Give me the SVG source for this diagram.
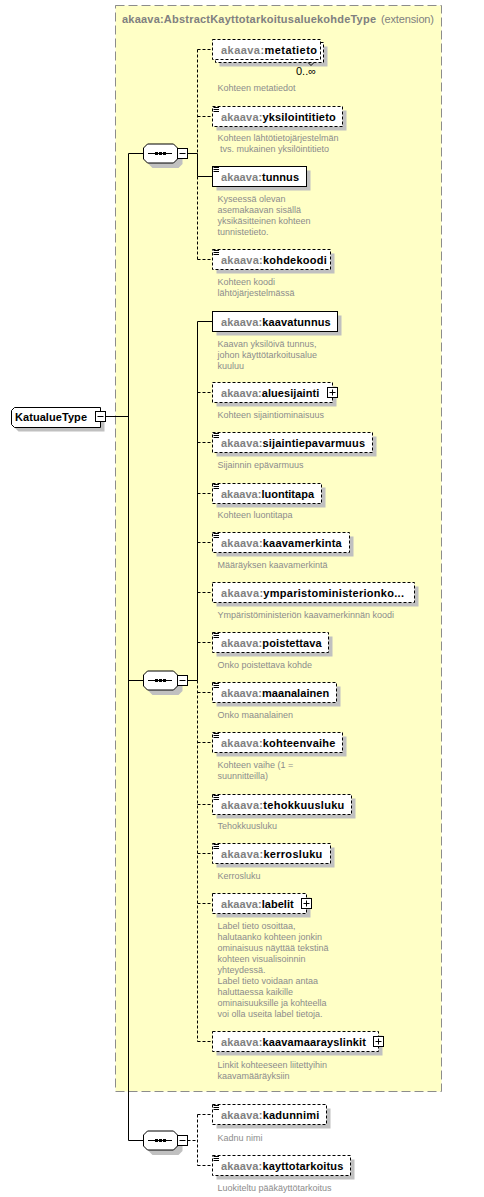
<svg xmlns="http://www.w3.org/2000/svg" width="484" height="1197" viewBox="0 0 484 1197">
<style>
.bg{fill:#fff}
.ext{fill:#FFFFC6;stroke:#8c8c8c;stroke-width:1;stroke-dasharray:9 4}
.box{fill:#fff;stroke:#000;stroke-width:1}
.opt{stroke-dasharray:3 2}
.shd{fill:#c0c0c0;stroke:none}
.ln{stroke:#000;stroke-width:1;fill:none}
.dl{stroke:#000;stroke-width:1;fill:none;stroke-dasharray:3 2}
.nm{font-family:"Liberation Sans",Arial,sans-serif;font-size:11px;font-weight:bold;fill:#000}
.pf{fill:#808080}
.ttl{font-family:"Liberation Sans",Arial,sans-serif;font-size:11px;font-weight:bold;fill:#808080}
.ttn{font-family:"Liberation Sans",Arial,sans-serif;font-size:11px;fill:#808080}
.ds{font-family:"Liberation Sans",Arial,sans-serif;font-size:9px;fill:#8c8c8c}
.card{font-family:"Liberation Sans","DejaVu Sans",sans-serif;font-size:11px;fill:#000}
</style>
<defs>
<g id="seqshape">
<polygon class="shd" points="152.5,-4.5 178.5,-4.5 182.5,-0.5 182.5,10.5 178.5,14.5 152.5,14.5 148.5,10.5 148.5,-0.5"/>
<polygon class="box" points="147.5,-9.5 173.5,-9.5 177.5,-5.5 177.5,5.5 173.5,9.5 147.5,9.5 143.5,5.5 143.5,-5.5"/>
<line class="ln" x1="148" y1="0" x2="172" y2="0"/>
<rect x="155" y="-1.5" width="3" height="3" fill="#000"/>
<rect x="159" y="-1.5" width="3" height="3" fill="#000"/>
<rect x="163" y="-1.5" width="3" height="3" fill="#000"/>
<rect class="box" x="177.5" y="-5" width="10" height="10"/>
<line class="ln" x1="179.5" y1="0" x2="185.5" y2="0"/>
</g>
<g id="icon">
<line class="ln" x1="213.5" y1="0" x2="219" y2="0"/>
<line class="ln" x1="213.5" y1="2" x2="219" y2="2"/>
<line class="ln" x1="213.5" y1="4" x2="219" y2="4"/>
</g>
<g id="plus">
<rect class="box" x="-5" y="-5" width="10" height="10"/>
<line class="ln" x1="-3" y1="0" x2="3" y2="0"/>
<line class="ln" x1="0" y1="-3" x2="0" y2="3"/>
</g>
</defs>
<rect class="bg" x="0" y="0" width="484" height="1197"/>
<g id="extension">
<rect class="ext" x="115.5" y="5.5" width="326" height="1086"/>
<text class="ttl" x="122" y="23" textLength="254" lengthAdjust="spacing">akaava:AbstractKayttotarkoitusaluekohdeType</text>
<text class="ttn" x="381" y="23" textLength="53" lengthAdjust="spacing">(extension)</text>
</g>
<g id="connectors">
<line class="ln" x1="105.5" y1="416.5" x2="128.5" y2="416.5"/>
<line class="ln" x1="128.5" y1="153.5" x2="128.5" y2="1140.5"/>
<line class="ln" x1="128.5" y1="153.5" x2="143.5" y2="153.5"/>
<line class="ln" x1="128.5" y1="680.5" x2="143.5" y2="680.5"/>
<line class="ln" x1="128.5" y1="1140.5" x2="143.5" y2="1140.5"/>
<line class="ln" x1="187.5" y1="153.5" x2="197.5" y2="153.5"/>
<line class="dl" x1="197.5" y1="49.5" x2="197.5" y2="153.5"/>
<line class="ln" x1="197.5" y1="153.5" x2="197.5" y2="176.5"/>
<line class="dl" x1="197.5" y1="176.5" x2="197.5" y2="259.5"/>
<line class="dl" x1="197.5" y1="49.5" x2="212.5" y2="49.5"/>
<line class="dl" x1="197.5" y1="116.5" x2="212.5" y2="116.5"/>
<line class="ln" x1="197.5" y1="176.5" x2="212.5" y2="176.5"/>
<line class="dl" x1="197.5" y1="259.5" x2="212.5" y2="259.5"/>
<line class="ln" x1="187.5" y1="680.5" x2="197.5" y2="680.5"/>
<line class="ln" x1="197.5" y1="321.5" x2="197.5" y2="680.5"/>
<line class="dl" x1="197.5" y1="680.5" x2="197.5" y2="1041.5"/>
<line class="ln" x1="197.5" y1="321.5" x2="212.5" y2="321.5"/>
<line class="dl" x1="197.5" y1="392.5" x2="212.5" y2="392.5"/>
<line class="dl" x1="197.5" y1="442.5" x2="212.5" y2="442.5"/>
<line class="dl" x1="197.5" y1="493.5" x2="212.5" y2="493.5"/>
<line class="dl" x1="197.5" y1="542.5" x2="212.5" y2="542.5"/>
<line class="dl" x1="197.5" y1="592.5" x2="212.5" y2="592.5"/>
<line class="dl" x1="197.5" y1="642.5" x2="212.5" y2="642.5"/>
<line class="dl" x1="197.5" y1="692.5" x2="212.5" y2="692.5"/>
<line class="dl" x1="197.5" y1="742.5" x2="212.5" y2="742.5"/>
<line class="dl" x1="197.5" y1="804.5" x2="212.5" y2="804.5"/>
<line class="dl" x1="197.5" y1="853.5" x2="212.5" y2="853.5"/>
<line class="dl" x1="197.5" y1="903.5" x2="212.5" y2="903.5"/>
<line class="dl" x1="197.5" y1="1041.5" x2="212.5" y2="1041.5"/>
<line class="dl" x1="187.5" y1="1140.5" x2="197.5" y2="1140.5"/>
<line class="dl" x1="197.5" y1="1114.5" x2="197.5" y2="1165.5"/>
<line class="dl" x1="197.5" y1="1114.5" x2="212.5" y2="1114.5"/>
<line class="dl" x1="197.5" y1="1165.5" x2="212.5" y2="1165.5"/>
</g>
<g id="KatualueType">
<polygon class="shd" points="18.5,411.5 104.5,411.5 104.5,431.5 18.5,431.5 15.5,428.5 15.5,414.5"/>
<polygon class="box" points="14.5,407.5 100.5,407.5 100.5,427.5 14.5,427.5 11.5,424.5 11.5,410.5"/>
<text class="nm" x="15" y="421" textLength="72" lengthAdjust="spacing">KatualueType</text>
<rect class="box" x="95.5" y="411.5" width="10" height="10"/>
<line class="ln" x1="97.5" y1="416.5" x2="103.5" y2="416.5"/>
</g>
<g id="seq1" transform="translate(0,153.5)"><use href="#seqshape"/></g>
<g id="seq2" transform="translate(0,680.5)"><use href="#seqshape"/></g>
<g id="seq3" transform="translate(0,1140.5)"><use href="#seqshape"/></g>
<g id="metatieto">
<rect class="shd" x="219.5" y="46.5" width="108" height="20"/>
<rect class="box opt" x="215.5" y="42.5" width="108" height="20"/>
<rect class="box opt" x="212.5" y="39.5" width="108" height="20"/>
<text class="nm" x="221" y="53.5" textLength="96" lengthAdjust="spacing"><tspan class="pf">akaava:</tspan>metatieto</text>
<polyline class="ln" points="308,62.5 311,65.5 314,62.5"/>
<text class="card" x="296" y="75">0..∞</text>
<text class="ds" x="217.5" y="91">Kohteen metatiedot</text>
</g>
<g id="yksilointitieto">
<rect class="shd" x="216.5" y="110.5" width="130" height="20"/>
<rect class="box opt" x="212.5" y="106.5" width="130" height="20"/>
<use href="#icon" y="107.5"/>
<text class="nm" x="221" y="120.5" textLength="114.7" lengthAdjust="spacing"><tspan class="pf">akaava:</tspan>yksilointitieto</text>
<text class="ds" x="217.5" y="141" xml:space="preserve" style="white-space:pre">Kohteen lähtötietojärjestelmän<tspan x="217.5" dy="11"> tvs. mukainen yksilöintitieto</tspan></text>
</g>
<g id="tunnus">
<rect class="shd" x="216.5" y="170.5" width="94" height="20"/>
<rect class="box" x="212.5" y="166.5" width="94" height="20"/>
<use href="#icon" y="167.5"/>
<text class="nm" x="221" y="180.5" textLength="78" lengthAdjust="spacing"><tspan class="pf">akaava:</tspan>tunnus</text>
<text class="ds" x="217.5" y="202">Kyseessä olevan<tspan x="217.5" dy="11">asemakaavan sisällä</tspan><tspan x="217.5" dy="11">yksikäsitteinen kohteen</tspan><tspan x="217.5" dy="11">tunnistetieto.</tspan></text>
</g>
<g id="kohdekoodi">
<rect class="shd" x="216.5" y="253.5" width="118" height="20"/>
<rect class="box opt" x="212.5" y="249.5" width="118" height="20"/>
<use href="#icon" y="250.5"/>
<text class="nm" x="221" y="263.5" textLength="105.7" lengthAdjust="spacing"><tspan class="pf">akaava:</tspan>kohdekoodi</text>
<text class="ds" x="217.5" y="284.5">Kohteen koodi<tspan x="217.5" dy="11">lähtöjärjestelmässä</tspan></text>
</g>
<g id="kaavatunnus">
<rect class="shd" x="216.5" y="315.5" width="125" height="20"/>
<rect class="box" x="212.5" y="311.5" width="125" height="20"/>
<text class="nm" x="221" y="325.5" textLength="109.7" lengthAdjust="spacing"><tspan class="pf">akaava:</tspan>kaavatunnus</text>
<text class="ds" x="217.5" y="346.5">Kaavan yksilöivä tunnus,<tspan x="217.5" dy="11">johon käyttötarkoitusalue</tspan><tspan x="217.5" dy="11">kuuluu</tspan></text>
</g>
<g id="aluesijainti">
<rect class="shd" x="216.5" y="386.5" width="120" height="20"/>
<rect class="box opt" x="212.5" y="382.5" width="120" height="20"/>
<text class="nm" x="221" y="396.5" textLength="98.3" lengthAdjust="spacing"><tspan class="pf">akaava:</tspan>aluesijainti</text>
<use href="#plus" x="332.5" y="392.5"/>
<text class="ds" x="217.5" y="418">Kohteen sijaintiominaisuus</text>
</g>
<g id="sijaintiepavarmuus">
<rect class="shd" x="216.5" y="436.5" width="160" height="20"/>
<rect class="box opt" x="212.5" y="432.5" width="160" height="20"/>
<use href="#icon" y="433.5"/>
<text class="nm" x="221" y="446.5" textLength="144" lengthAdjust="spacing"><tspan class="pf">akaava:</tspan>sijaintiepavarmuus</text>
<text class="ds" x="217.5" y="467.5">Sijainnin epävarmuus</text>
</g>
<g id="luontitapa">
<rect class="shd" x="216.5" y="487.5" width="109" height="20"/>
<rect class="box opt" x="212.5" y="483.5" width="109" height="20"/>
<use href="#icon" y="484.5"/>
<text class="nm" x="221" y="497.5" textLength="93" lengthAdjust="spacing"><tspan class="pf">akaava:</tspan>luontitapa</text>
<text class="ds" x="217.5" y="517.5">Kohteen luontitapa</text>
</g>
<g id="kaavamerkinta">
<rect class="shd" x="216.5" y="536.5" width="137" height="20"/>
<rect class="box opt" x="212.5" y="532.5" width="137" height="20"/>
<use href="#icon" y="533.5"/>
<text class="nm" x="221" y="546.5" textLength="120.7" lengthAdjust="spacing"><tspan class="pf">akaava:</tspan>kaavamerkinta</text>
<text class="ds" x="217.5" y="567.5">Määräyksen kaavamerkintä</text>
</g>
<g id="ymparistoministerionkoodi">
<rect class="shd" x="216.5" y="586.5" width="202" height="20"/>
<rect class="box opt" x="212.5" y="582.5" width="202" height="20"/>
<text class="nm" x="221" y="596.5" textLength="183" lengthAdjust="spacing"><tspan class="pf">akaava:</tspan>ymparistoministerionko...</text>
<text class="ds" x="217.5" y="617.5">Ympäristöministeriön kaavamerkinnän koodi</text>
</g>
<g id="poistettava">
<rect class="shd" x="216.5" y="636.5" width="116" height="20"/>
<rect class="box opt" x="212.5" y="632.5" width="116" height="20"/>
<use href="#icon" y="633.5"/>
<text class="nm" x="221" y="646.5" textLength="100.7" lengthAdjust="spacing"><tspan class="pf">akaava:</tspan>poistettava</text>
<text class="ds" x="217.5" y="667.5">Onko poistettava kohde</text>
</g>
<g id="maanalainen">
<rect class="shd" x="216.5" y="686.5" width="124" height="20"/>
<rect class="box opt" x="212.5" y="682.5" width="124" height="20"/>
<use href="#icon" y="683.5"/>
<text class="nm" x="221" y="696.5" textLength="108.3" lengthAdjust="spacing"><tspan class="pf">akaava:</tspan>maanalainen</text>
<text class="ds" x="217.5" y="717.5">Onko maanalainen</text>
</g>
<g id="kohteenvaihe">
<rect class="shd" x="216.5" y="736.5" width="130" height="20"/>
<rect class="box opt" x="212.5" y="732.5" width="130" height="20"/>
<use href="#icon" y="733.5"/>
<text class="nm" x="221" y="746.5" textLength="114.3" lengthAdjust="spacing"><tspan class="pf">akaava:</tspan>kohteenvaihe</text>
<text class="ds" x="217.5" y="768">Kohteen vaihe (1 =<tspan x="217.5" dy="11">suunnitteilla)</tspan></text>
</g>
<g id="tehokkuusluku">
<rect class="shd" x="216.5" y="798.5" width="139" height="20"/>
<rect class="box opt" x="212.5" y="794.5" width="139" height="20"/>
<use href="#icon" y="795.5"/>
<text class="nm" x="221" y="808.5" textLength="123.3" lengthAdjust="spacing"><tspan class="pf">akaava:</tspan>tehokkuusluku</text>
<text class="ds" x="217.5" y="828.5">Tehokkuusluku</text>
</g>
<g id="kerrosluku">
<rect class="shd" x="216.5" y="847.5" width="118" height="20"/>
<rect class="box opt" x="212.5" y="843.5" width="118" height="20"/>
<use href="#icon" y="844.5"/>
<text class="nm" x="221" y="857.5" textLength="101.3" lengthAdjust="spacing"><tspan class="pf">akaava:</tspan>kerrosluku</text>
<text class="ds" x="217.5" y="879">Kerrosluku</text>
</g>
<g id="labelit">
<rect class="shd" x="216.5" y="897.5" width="94" height="20"/>
<rect class="box opt" x="212.5" y="893.5" width="94" height="20"/>
<text class="nm" x="221" y="907.5" textLength="72.7" lengthAdjust="spacing"><tspan class="pf">akaava:</tspan>labelit</text>
<use href="#plus" x="306.5" y="903.5"/>
<text class="ds" x="217.5" y="929">Label tieto osoittaa,<tspan x="217.5" dy="11">halutaanko kohteen jonkin</tspan><tspan x="217.5" dy="11">ominaisuus näyttää tekstinä</tspan><tspan x="217.5" dy="11">kohteen visualisoinnin</tspan><tspan x="217.5" dy="11">yhteydessä.</tspan><tspan x="217.5" dy="11">Label tieto voidaan antaa</tspan><tspan x="217.5" dy="11">haluttaessa kaikille</tspan><tspan x="217.5" dy="11">ominaisuuksille ja kohteella</tspan><tspan x="217.5" dy="11">voi olla useita label tietoja.</tspan></text>
</g>
<g id="kaavamaarayslinkit">
<rect class="shd" x="216.5" y="1035.5" width="166" height="20"/>
<rect class="box opt" x="212.5" y="1031.5" width="166" height="20"/>
<text class="nm" x="221" y="1045.5" textLength="145" lengthAdjust="spacing"><tspan class="pf">akaava:</tspan>kaavamaarayslinkit</text>
<use href="#plus" x="378.5" y="1041.5"/>
<text class="ds" x="217.5" y="1067.5">Linkit kohteeseen liitettyihin<tspan x="217.5" dy="11">kaavamääräyksiin</tspan></text>
</g>
<g id="kadunnimi">
<rect class="shd" x="216.5" y="1108.5" width="114" height="20"/>
<rect class="box opt" x="212.5" y="1104.5" width="114" height="20"/>
<use href="#icon" y="1105.5"/>
<text class="nm" x="221" y="1118.5" textLength="98.3" lengthAdjust="spacing"><tspan class="pf">akaava:</tspan>kadunnimi</text>
<text class="ds" x="217.5" y="1140.5">Kadnu nimi</text>
</g>
<g id="kayttotarkoitus">
<rect class="shd" x="216.5" y="1159.5" width="138" height="20"/>
<rect class="box opt" x="212.5" y="1155.5" width="138" height="20"/>
<use href="#icon" y="1156.5"/>
<text class="nm" x="221" y="1169.5" textLength="122.3" lengthAdjust="spacing"><tspan class="pf">akaava:</tspan>kayttotarkoitus</text>
<text class="ds" x="217.5" y="1190.5">Luokiteltu pääkäyttötarkoitus</text>
</g>
</svg>
